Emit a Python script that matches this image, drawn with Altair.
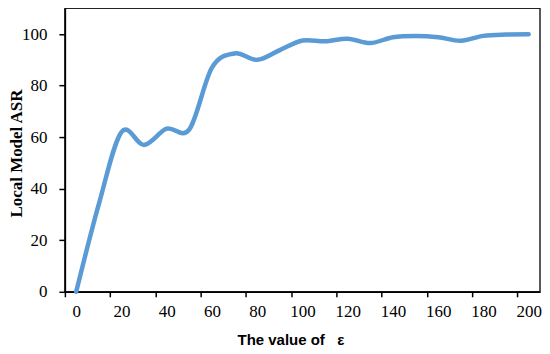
import altair as alt
import pandas as pd

eps = [0, 10, 20, 30, 40, 50, 60, 70, 80, 90, 100, 110, 120, 130, 140, 150, 160, 170, 180, 190, 200]
asr = [0, 34, 62, 57, 63.3, 63, 87, 92.5, 90, 93.8, 97.5, 97.2, 98.2, 96.5, 98.8, 99.3, 98.8, 97.4, 99.3, 99.8, 99.9]
x_labels = [0, 20, 40, 60, 80, 100, 120, 140, 160, 180, 200]
y_labels = [0, 20, 40, 60, 80, 100]

df = pd.DataFrame({"eps": eps, "asr": asr})

W = 476
H = 284
px_per_unit = W / 210.0
off = 5 * px_per_unit

chart = alt.Chart(df).mark_line(
    color="#5B9BD5", strokeWidth=4.5, interpolate="cardinal", strokeCap="round"
).encode(
    x=alt.X("eps:Q", scale=alt.Scale(domain=[-5, 205], nice=False, zero=False),
            axis=alt.Axis(values=x_labels, title="The value of\u00a0\u00a0\u00a0ε",
                          tickOffset=-off, labelOffset=off, labelFlush=False,
                          labelOverlap=False, tickSize=5, labelPadding=7,
                          labelFont="Liberation Serif", labelFontSize=17, labelColor="black",
                          titleFont="Liberation Sans", titleFontWeight="bold",
                          titleFontSize=15, titleColor="black",
                          titleX=226, titleY=53, titleAlign="center",
                          titleBaseline="alphabetic",
                          grid=False, domainColor="black", domainWidth=1.5,
                          tickColor="black", tickWidth=1.5)),
    y=alt.Y("asr:Q", scale=alt.Scale(domain=[0, 110], nice=False),
            axis=alt.Axis(values=y_labels, title="Local Model ASR", tickSize=6,
                          labelPadding=12, labelFont="Liberation Serif", labelFontSize=17,
                          labelColor="black", titleFont="Liberation Serif",
                          titleFontWeight="bold", titleFontSize=17, titleColor="black",
                          titleX=-43, titleY=145, titleAlign="center",
                          titleBaseline="alphabetic", titleAngle=270,
                          grid=False, domainColor="black",
                          domainWidth=1.5, tickColor="black", tickWidth=1.5)),
).properties(
    width=W, height=H, padding={"left": 0, "top": 0, "right": 0, "bottom": 0}
).configure_view(
    stroke="#222222", strokeWidth=1.5
)

chart.save("out.html", embed_options={"renderer": "svg", "actions": False})
